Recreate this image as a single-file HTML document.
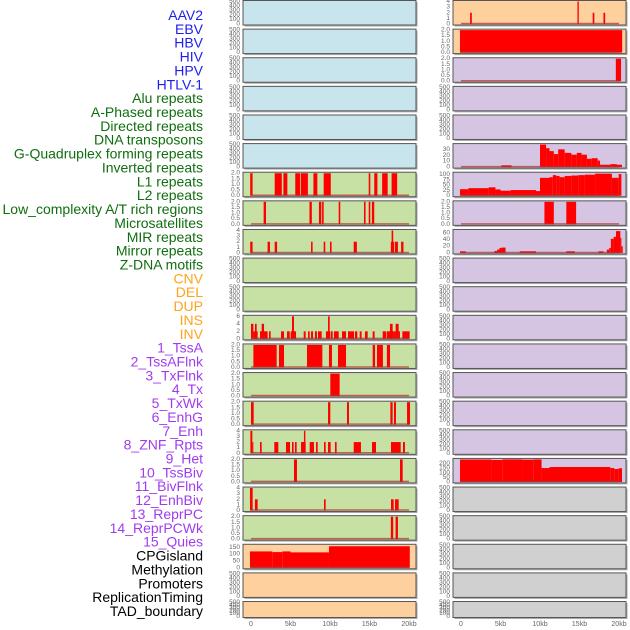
<!DOCTYPE html>
<html><head><meta charset="utf-8"><style>
html,body{margin:0;padding:0;background:#fff;}
svg{display:block;font-family:"Liberation Sans",sans-serif;}
</style></head><body>
<svg id="chart" width="630" height="630" viewBox="0 0 630 630" xmlns="http://www.w3.org/2000/svg"></svg>
<script>
// ---- data ----
const trackLabels = ["AAV2","EBV","HBV","HIV","HPV","HTLV-1","Alu repeats","A-Phased repeats","Directed repeats","DNA transposons","G-Quadruplex forming repeats","Inverted repeats","L1 repeats","L2 repeats","Low_complexity A/T rich regions","Microsatellites","MIR repeats","Mirror repeats","Z-DNA motifs","CNV","DEL","DUP","INS","INV","1_TssA","2_TssAFlnk","3_TxFlnk","4_Tx","5_TxWk","6_EnhG","7_Enh","8_ZNF_Rpts","9_Het","10_TssBiv","11_BivFlnk","12_EnhBiv","13_ReprPC","14_ReprPCWk","15_Quies","CPGisland","Methylation","Promoters","ReplicationTiming","TAD_boundary"];
const labelGroups = ["v","v","v","v","v","v","r","r","r","r","r","r","r","r","r","r","r","r","r","c","c","c","c","c","s","s","s","s","s","s","s","s","s","s","s","s","s","s","s","o","o","o","o","o"];
const xTickValues = [0,5,10,15,20];
const xTickLabels = ["0","5kb","10kb","15kb","20kb"];
const ticks500 = ["0","100","200","300","400","500"];
const ticks2 = ["0.0","0.5","1.0","1.5","2.0"];
const ticks4 = ["0","1","2","3","4"];
const ticks6 = ["0","2","4","6"];
const ticks150 = ["0","50","100","150"];
const ticks30 = ["0","10","20","30"];
const ticks100 = ["0","25","50","75","100"];
const ticks60 = ["0","20","40","60"];
const ticks200 = ["0","50","100","150","200"];

// left column bars [startKb, endKb, value]
const leftRow6 = [[-0.1,0.2,2],[3.0,3.9,2],[4.1,4.6,2],[5.6,6.2,2],[6.3,7.2,2],[7.9,8.4,2],[9.2,10.1,2],[14.9,15.1,2],[15.6,16.0,2],[16.6,17.3,2],[17.8,18.5,2]];
const leftRow7 = [[1.6,1.9,2],[7.4,7.7,2],[8.6,8.9,2],[9.0,9.2,2],[11.1,11.3,2],[14.3,14.5,2],[14.9,15.1,2],[15.3,15.6,2]];
const leftRow8 = [[-0.1,0.2,2],[2.1,2.4,2],[3.0,3.3,2],[7.6,7.8,2],[9.2,9.4,2],[10.0,10.2,2],[13.0,13.4,2],[17.7,18.1,2],[17.8,18.0,4],[18.2,18.6,2],[19.0,19.3,2]];
const leftRow11 = [[0,0.3,4],[0.3,0.84,2],[0.5,0.72,4],[1.14,1.77,2],[1.35,1.65,4],[1.77,2.1,2],[2.28,2.49,2],[3.8,4.18,2],[4.56,4.9,2],[5.02,5.7,2],[5.19,5.44,6],[6.67,6.92,2],[7.22,7.43,2],[7.6,7.85,2],[8.1,8.35,2],[8.48,8.95,2],[9.49,10.0,2],[9.75,9.96,6],[10.08,10.34,2],[10.5,11.1,2],[11.52,12.03,2],[12.28,13.04,2],[13.16,13.46,2],[13.76,14.0,2],[14.43,14.77,2],[15.4,15.65,2],[16.67,17.09,2],[17.17,17.47,2],[17.47,18.02,2],[17.59,17.93,4],[18.02,18.31,2],[18.31,18.69,4],[18.69,18.86,2],[19.16,20.08,2]];
const leftRow12 = [[0.3,3.25,2],[3.54,4.18,2],[7.09,9.03,2],[9.87,10.25,2],[11.01,12.03,2],[15.4,15.7,2],[15.95,16.7,2],[17.2,17.6,2]];
const leftRow13 = [[10.04,11.22,2]];
const leftRow14 = [[0,0.34,2],[9.75,10.04,2],[12.15,12.4,2],[17.64,17.93,2],[18.1,18.35,2],[19.75,20.13,2]];
const leftRow15 = [[-0.08,0.17,4],[0.17,0.25,2],[1.14,1.35,2],[2.95,3.46,2],[4.43,4.94,2],[5.19,5.4,2],[5.57,5.78,2],[6.33,6.92,2],[6.7,6.88,4],[7.43,7.97,2],[8.23,8.44,2],[9.24,9.45,2],[9.75,10.08,2],[10.63,10.84,2],[13.0,13.92,2],[15.32,15.82,2],[17.72,18.95,2],[19.24,19.49,2]];
const leftRow16 = [[5.44,5.82,2],[18.86,19.2,2]];
const leftRow17 = [[-0.13,0.21,4],[0.5,0.84,2],[9.24,9.45,2],[17.72,18.06,2],[18.23,18.69,2]];
const leftRow18 = [[17.7,18.0,2],[18.3,18.6,2]];
const leftRow19 = [[-0.13,2.7,120],[2.7,3.96,115],[3.96,5.0,120],[5.0,9.87,113],[9.87,20.1,158]];

// right column bars
const rightRow0 = [[1.15,1.37,2],[14.74,14.91,4],[16.67,16.88,2],[18.03,18.25,2]];
const rightRow1 = [[-0.13,20.4,2]];
const rightRow2 = [[19.6,20.26,2]];
const rightRow5 = [[5.1,6.4,3],[10.0,10.77,38],[10.77,11.2,32],[11.2,11.75,27],[11.75,12.3,22],[12.3,13.12,30],[13.12,13.97,24],[13.97,14.66,21],[14.66,15.26,24],[15.26,15.94,21],[15.94,16.54,14],[16.54,17.3,15],[17.3,17.6,11],[17.6,18.9,4],[18.9,19.74,5],[19.74,20.38,4]];
const rightRow6 = [[-0.13,0.94,31],[0.94,3.5,36],[3.5,4.36,40],[4.36,5.0,30],[5.0,6.28,24],[6.28,9.49,27],[9.49,10.0,22],[10.0,11.2,85],[11.2,11.62,88],[11.62,12.05,98],[12.05,12.48,94],[12.48,13.12,88],[13.12,13.97,94],[13.97,14.83,96],[14.83,15.68,98],[15.68,16.97,100],[16.97,19.1,105],[19.1,19.96,85],[19.96,20.3,103]];
const rightRow7 = [[10.56,11.75,2],[13.33,14.57,2]];
const rightRow8 = [[-0.13,0.6,5],[4.23,4.57,6],[4.57,4.87,10],[4.87,5.13,15],[5.13,5.64,16],[7.44,9.49,5],[13.33,14.4,5],[17.4,18.03,5],[18.46,18.76,10],[18.76,18.97,15],[18.97,19.32,42],[19.32,19.62,48],[19.62,20.17,65],[20.17,20.3,45],[20.3,20.47,20]];
const rightRow16 = [[-0.13,3.85,245],[3.85,5.21,240],[5.21,7.78,246],[7.78,9.15,243],[9.15,10.2,246],[10.2,11.2,152],[11.2,18.9,163],[18.9,19.4,152],[19.4,19.96,141],[19.96,20.38,150]];

// ---- layout ----
const NS = "http://www.w3.org/2000/svg";
const svg = document.getElementById("chart");
const colLeft = [243, 453];
const panelW = 173;
const kbPx = 7.9;
function xScale(col, kb){ return colLeft[col] + 8 + kb * kbPx; }
function rowTop(r){ return r === 0 ? 0.5 : 0.5 + r * 28.62; }
function rowH(r){ return r === 21 ? 16 : 24.5; }
function mk(tag, attrs, parent){ const e=document.createElementNS(NS,tag); for(const k in attrs) e.setAttribute(k, attrs[k]); (parent||svg).appendChild(e); return e; }

const BLUE="#c8e4ec", GREEN="#c7e1a4", ORANGE="#fed09e", PURPLE="#d5c5e3", GRAY="#d0d0d0";
function leftColor(r){ return r<6?BLUE:(r<19?GREEN:ORANGE); }
function rightColor(r){ return r<2?ORANGE:(r<17?PURPLE:GRAY); }

const leftSpec = {6:[leftRow6,2,ticks2],7:[leftRow7,2,ticks2],8:[leftRow8,4,ticks4],11:[leftRow11,6,ticks6],12:[leftRow12,2,ticks2],13:[leftRow13,2,ticks2],14:[leftRow14,2,ticks2],15:[leftRow15,4,ticks4],16:[leftRow16,2,ticks2],17:[leftRow17,4,ticks4],18:[leftRow18,2,ticks2],19:[leftRow19,165,ticks150]};
const rightSpec = {0:[rightRow0,4,ticks4],1:[rightRow1,2,ticks2],2:[rightRow2,2,ticks2],5:[rightRow5,38,ticks30],6:[rightRow6,107,ticks100],7:[rightRow7,2,ticks2],8:[rightRow8,67,ticks60],16:[rightRow16,246,ticks200]};

// labels
const groupColor = {v:"#1e1ef0", r:"#0f6e0f", c:"#ffa31a", s:"#a03cf0", o:"#000000"};
trackLabels.forEach((t,i)=>{
  const e = mk("text",{x:203,y:15+i*13.86,"text-anchor":"end","dominant-baseline":"central","font-size":"14",fill:groupColor[labelGroups[i]]});
  e.textContent = t;
  
  
});

for(let r=0;r<22;r++){
  for(let col=0;col<2;col++){
    const top=rowTop(r), h=rowH(r), x0=colLeft[col];
    const spec = (col===0?leftSpec:rightSpec)[r];
    const g = mk("g",{});
    
    
    mk("rect",{x:x0+1.5,y:top+1.5,width:panelW,height:h,fill:"#aaa"},g);
    mk("rect",{x:x0,y:top,width:panelW,height:h,fill:col===0?leftColor(r):rightColor(r),stroke:"#555","stroke-width":1},g);
    let ymax=500, ticks=ticks500, bars=null;
    if(spec){ bars=spec[0]; ymax=spec[1]; ticks=spec[2]; }
    const bottom = top + h - 1, inner = h - 2;
    const yScale = v => bottom - Math.min(v,ymax)/ymax*inner;
    if(bars){
      bars.forEach(b=>{
        const xa=Math.max(x0+1,xScale(col,b[0])), xb=Math.min(x0+panelW-1,xScale(col,b[1]));
        const y=yScale(b[2]);
        const bar = mk("rect",{x:xa,y:y,width:Math.max(1,xb-xa),height:bottom-y,fill:"#ff0000"},g);
        
        
      });
      mk("line",{x1:xScale(col,0),x2:xScale(col,20),y1:bottom-0.5,y2:bottom-0.5,stroke:"#b03030","stroke-width":1.5,"stroke-opacity":0.7},g);
    }
    ticks.forEach(t=>{
      const v=parseFloat(t);
      const tx = mk("text",{x:x0-3,y:yScale(v),"text-anchor":"end","dominant-baseline":"central","font-size":"6.5",fill:"#666"},g);
      tx.textContent=t;
      
      
    });
  }
}
// x axis
for(let col=0;col<2;col++){
  xTickValues.forEach((v,i)=>{
    const e = mk("text",{x:xScale(col,v),y:626,"text-anchor":"middle","font-size":"7",fill:"#666"});
    e.textContent = xTickLabels[i];
    
    
  });
}
</script>
</body></html>
